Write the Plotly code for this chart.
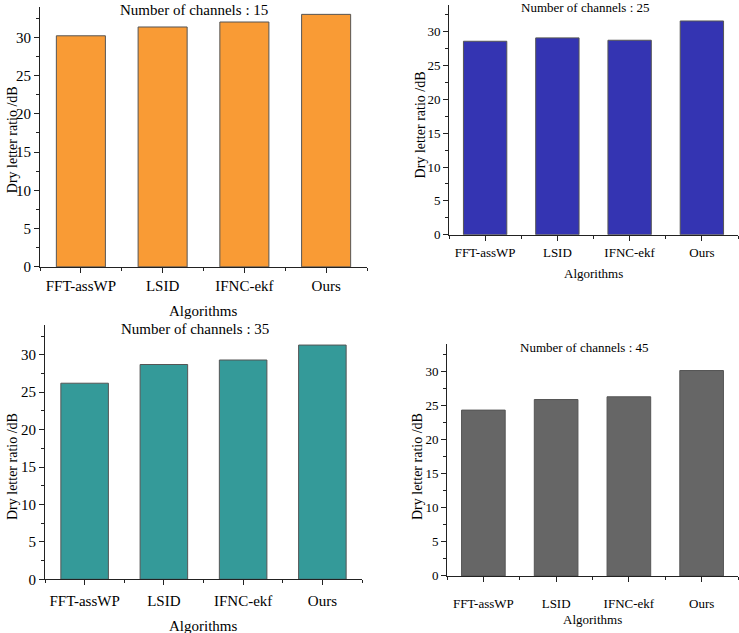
import plotly.graph_objects as go

W, H = 739, 633

algorithms = ["FFT-assWP", "LSID", "IFNC-ekf", "Ours"]
channels = [15, 25, 35, 45]
ratio_15 = [30.2, 31.35, 32.0, 33.0]
ratio_25 = [28.6, 29.1, 28.75, 31.6]
ratio_35 = [26.2, 28.7, 29.3, 31.3]
ratio_45 = [24.3, 25.85, 26.25, 30.1]
y_ticks = [0, 5, 10, 15, 20, 25, 30]

series = [ratio_15, ratio_25, ratio_35, ratio_45]
colors = ["#F99B35", "#3434B2", "#349A99", "#666666"]

# panel layout in pixels
panels = [
    dict(x0=40, x1=367, yb=270.3, yt=6.8, fs=15, tfs=15, title=(194, 10), xl=315, yl=(12, 142), ylfs=14, stand=0),
    dict(x0=449, x1=738, yb=237.7, yt=4.8, fs=13, tfs=13, title=(585, 8), xl=277, yl=(420, 127), ylfs=14, stand=1),
    dict(x0=45, x1=362, yb=586.7, yt=329, fs=15, tfs=15, title=(195, 333), xl=634, yl=(12, 473), ylfs=14, stand=3),
    dict(x0=447, x1=738, yb=583.3, yt=348.3, fs=13, tfs=13, title=(584, 352), xl=627, yl=(417, 473), ylfs=14, stand=10),
]

FONT = "Liberation Serif"
fig = go.Figure()
annotations = []
for i, (p, vals, col, ch) in enumerate(zip(panels, series, colors, channels)):
    n = "" if i == 0 else str(i + 1)
    fig.add_trace(go.Bar(
        x=list(range(len(algorithms))), y=vals, width=0.6,
        marker=dict(color=col, line=dict(color="#555555", width=1)),
        xaxis="x" + n, yaxis="y" + n, showlegend=False,
    ))
    xa = dict(
        domain=[p["x0"] / W, p["x1"] / W], anchor="y" + n,
        range=[-0.5, 3.5], tickvals=list(range(len(algorithms))), ticktext=algorithms,
        showline=True, linecolor="#222222", linewidth=1, showgrid=False, zeroline=False,
        ticks="outside", ticklen=5, tickcolor="#222222",
        minor=dict(tickvals=[-0.5, 0.5, 1.5, 2.5, 3.5], ticks="outside", ticklen=3, tickcolor="#222222"),
        tickfont=dict(family=FONT, size=p["fs"], color="black"),
        ticklabelstandoff=p["stand"], fixedrange=True,
    )
    ya = dict(
        domain=[1 - p["yb"] / H, 1 - p["yt"] / H], anchor="x" + n,
        range=[0, 34], tickvals=y_ticks,
        showline=True, linecolor="#222222", linewidth=1, showgrid=False, zeroline=False,
        ticks="outside", ticklen=5, tickcolor="#222222",
        minor=dict(dtick=2.5, tick0=0, ticks="outside", ticklen=3, tickcolor="#222222"),
        tickfont=dict(family=FONT, size=p["fs"], color="black"),
        fixedrange=True,
    )
    fig.layout["xaxis" + n] = xa
    fig.layout["yaxis" + n] = ya
    annotations.append(dict(
        text=f"Number of channels : {ch}", x=p["title"][0] / W, y=1 - p["title"][1] / H,
        xref="paper", yref="paper", showarrow=False, xanchor="center", yanchor="middle",
        font=dict(family=FONT, size=p["tfs"], color="black"),
    ))
    annotations.append(dict(
        text="Algorithms", x=(p["x0"] + p["x1"]) / 2 / W, y=1 - p["xl"] / H,
        xref="paper", yref="paper", showarrow=False, xanchor="center", yanchor="middle",
        font=dict(family=FONT, size=p["tfs"], color="black"),
    ))
    annotations.append(dict(
        text="Dry letter ratio /dB", x=p["yl"][0] / W, y=1 - p["yl"][1] / H,
        xref="paper", yref="paper", showarrow=False, xanchor="center", yanchor="middle",
        textangle=-90, font=dict(family=FONT, size=p["ylfs"], color="black"),
    ))

fig.update_layout(
    width=W, height=H, margin=dict(l=0, r=0, t=0, b=0),
    paper_bgcolor="white", plot_bgcolor="white",
    annotations=annotations, bargap=0.4,
)
fig.write_html("out.html")
